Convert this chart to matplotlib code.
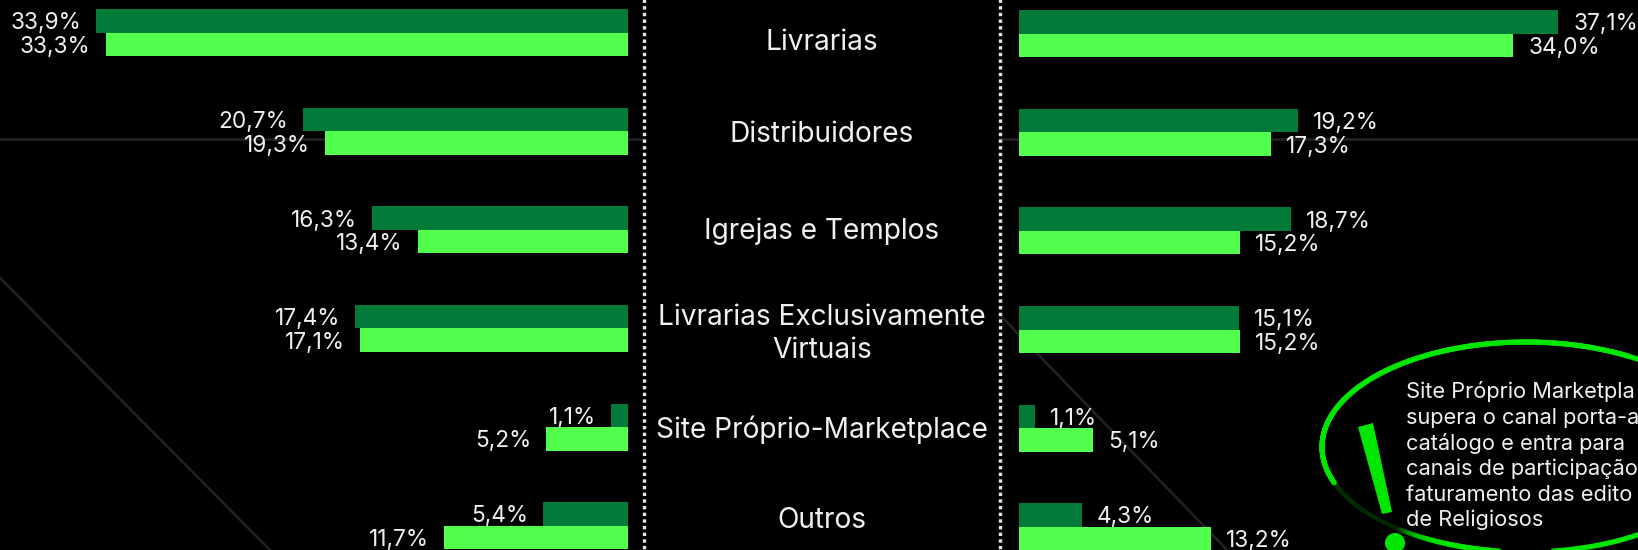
import numpy as np
import matplotlib
matplotlib.use('Agg')
import matplotlib.pyplot as plt
from matplotlib.collections import LineCollection
from matplotlib.patches import Polygon, Circle

W, H = 1638, 550
DPI = 100

categories = ['Livrarias', 'Distribuidores', 'Igrejas e Templos',
              'Livrarias Exclusivamente\nVirtuais', 'Site Próprio-Marketplace', 'Outros']
left_dark = [33.9, 20.7, 16.3, 17.4, 1.1, 5.4]
left_light = [33.3, 19.3, 13.4, 17.1, 5.2, 11.7]
right_dark = [37.1, 19.2, 18.7, 15.1, 1.1, 4.3]
right_light = [34.0, 17.3, 15.2, 15.2, 5.1, 13.2]
note_lines = ['Site Próprio Marketpla', 'supera o canal porta-a', 'catálogo e entra para',
              'canais de participação', 'faturamento das edito', 'de Religiosos']

DARK = '#027b38'
LIGHT = '#52ff4c'
BRIGHT = '#00e600'
TXT = '#f0f0f0'
FONT = 'Inter'

plt.rcParams['font.family'] = [FONT, 'DejaVu Sans']

fig = plt.figure(figsize=(W / DPI, H / DPI), dpi=DPI, facecolor='black')

# background axes in pixel coordinates, for everything that is not a bar
bg = fig.add_axes([0, 0, 1, 1], zorder=0)
bg.set_xlim(0, W)
bg.set_ylim(H, 0)
bg.axis('off')


def px(v):
    return v * 72 / DPI


# faint decoration
bg.plot([0, 644], [138.5, 138.5], color='#1e1e1e', lw=px(3))
bg.plot([1000, W], [138.5, 138.5], color='#1e1e1e', lw=px(3))
bg.plot([0, 270], [278, 550], color='#232323', lw=px(2.5))
bg.plot([1000, 1227], [315, 550], color='#232323', lw=px(2.5))

# dotted separators
for xd in [644.3, 1000]:
    bg.plot([xd, xd], [-0.8, H], color='#e4e4e4', lw=px(3.4),
            linestyle=(0, (1.0, 0.96)), dash_capstyle='butt')


# one side of the chart, mirror is True for the left one
def draw_side(x0, x1, xmax, dark, light, first_row, mirror):
    ax = fig.add_axes([x0 / W, 0, (x1 - x0) / W, 1], zorder=1)
    ax.patch.set_alpha(0)
    ax.axis('off')
    pitch = 98.6
    ax.set_ylim((H - first_row) / pitch, -first_row / pitch)
    ax.set_xlim((xmax, 0) if mirror else (0, xmax))
    h = 23.5 / pitch
    y = np.arange(len(dark))
    ax.barh(y - h / 2, dark, height=h, color=DARK)
    ax.barh(y + h / 2, light, height=h, color=LIGHT)
    off = -15 if mirror else 15
    ha = 'right' if mirror else 'left'
    for yy, d, l in zip(y, dark, light):
        for val, yv in [(d, yy - h / 2), (l, yy + h / 2)]:
            ax.annotate(f'{val:.1f}%'.replace('.', ','), (val, yv), xytext=(px(off), px(-2.5)),
                        textcoords='offset points', ha=ha, va='center', color=TXT,
                        fontsize=16.3, annotation_clip=False, zorder=5)


draw_side(0, 628, 628 / 15.69, left_dark, left_light, 32.7, True)
draw_side(1019.3, W, (W - 1019.3) / 14.53, right_dark, right_light, 33.7, False)

# category names
cat_y = [42, 135, 231, 334, 430, 521]
for c, yc in zip(categories, cat_y):
    bg.text(822, yc, c, ha='center', va='center', color=TXT, fontsize=20.2,
            linespacing=1.3)

# callout ellipse, the lower left stroke fades out
cx, cy, a, b = 1526, 447, 204, 105
t = np.linspace(np.radians(100), np.radians(300), 500)
ex = cx + a * np.cos(t)
ey = cy + b * np.sin(t)
# t runs from the bottom through the left side to the top in pixel space
pts = np.column_stack([ex, ey])
segs = np.stack([pts[:-1], pts[1:]], axis=1)
mx = segs[:, :, 0].mean(axis=1)
my = segs[:, :, 1].mean(axis=1)
fade = np.ones(len(segs))
low = (my > 483) & (mx < 1470)
fade[low] = np.clip((mx[low] - 1395) / 70, 0.04, 1)
cols = np.zeros((len(segs), 4))
cols[:, 1] = 0.9
cols[:, 3] = fade
bg.add_collection(LineCollection(segs, colors=cols, linewidths=px(5.2), capstyle='round'))
t2 = np.linspace(np.radians(-60), np.radians(100), 300)
bg.plot(cx + a * np.cos(t2), cy + b * np.sin(t2), color=BRIGHT, lw=px(5.2))

# exclamation mark
bg.add_patch(Polygon([(1358, 427), (1373, 423), (1392, 512), (1382, 514)], closed=True,
                     facecolor=BRIGHT, edgecolor='none'))
bg.add_patch(Circle((1395, 543), 10, facecolor=BRIGHT, edgecolor='none'))

# note text
note_y = [392, 418, 443, 469, 495, 520]
for line, yn in zip(note_lines, note_y):
    bg.text(1405.7, yn, line, ha='left', va='center', color=TXT, fontsize=15.7)

fig.savefig('out.png', dpi=DPI, facecolor='black')
